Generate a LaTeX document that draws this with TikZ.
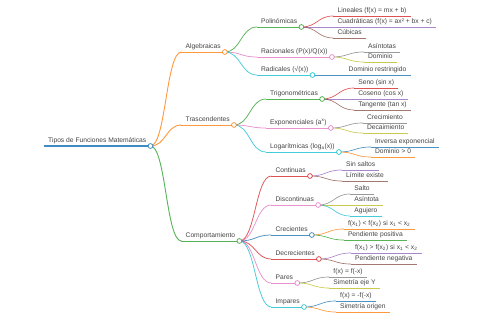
\documentclass[tikz,border=0pt]{standalone}
\usepackage{fontspec}
\setmainfont{Liberation Sans}
\usetikzlibrary{calc}
\definecolor{c0}{HTML}{1F77B4}
\definecolor{c1}{HTML}{FF7F0E}
\definecolor{c2}{HTML}{2CA02C}
\definecolor{c3}{HTML}{D62728}
\definecolor{c4}{HTML}{9467BD}
\definecolor{c5}{HTML}{8C564B}
\definecolor{c6}{HTML}{E377C2}
\definecolor{c7}{HTML}{7F7F7F}
\definecolor{c8}{HTML}{BCBD22}
\definecolor{c9}{HTML}{17BECF}
\definecolor{txt}{HTML}{444444}
\tikzset{
  lbl/.style={font=\fontsize{6.7}{8}\selectfont, text=txt, inner xsep=4pt, inner ysep=1.5pt,
    text height=5pt, text depth=1.5pt, anchor=south west},
  d0/.style={line width=1.2pt, draw opacity=0.85},
  d1/.style={line width=0.9pt, draw opacity=0.8},
  d2/.style={line width=0.75pt, draw opacity=0.8},
  d3/.style={line width=0.65pt, draw opacity=0.8},
  knobstyle/.style={line width=0.75pt, fill=white, draw opacity=0.85}
}
\def\kidgap{32}
\newcommand\kid[6]{%
  \path (#1.south east) ++(\kidgap,0) coordinate (#2-x);
  \coordinate (#2-y) at (0,#3);
  \node[lbl] (#2) at (#2-x |- #2-y) {#6};
  \draw[#4,#5] (#2.south west) -- (#2.south east);
  \draw[#4,#5] let \p1=(#1.south east), \p2=(#2.south west) in
    (\p1) .. controls ({0.5*\x1+0.5*\x2},\y1) and ({0.5*\x1+0.5*\x2},\y2) .. (\p2);
}
\newcommand\knob[2]{\draw[#2,knobstyle] (#1.south east) circle (2.4);}
\begin{document}
\begin{tikzpicture}[x=1pt,y=-1pt]
\useasboundingbox (0,0) rectangle (480,320);
\node[lbl] (root) at (44,146) {Tipos de Funciones Matemáticas};
\draw[c0,d0] (root.south west) -- (root.south east);
\def\kidgap{31}
\kid{root}{alg}{52}{c1}{d1}{Algebraicas}
\kid{root}{tra}{125}{c1}{d1}{Trascendentes}
\kid{root}{com}{241}{c2}{d1}{Comportamiento}
\def\kidgap{32}
\kid{alg}{pol}{27}{c2}{d2}{Polinómicas}
\kid{pol}{lin}{16}{c3}{d3}{Lineales (f(x) = mx + b)}
\kid{pol}{cua}{27}{c4}{d3}{Cuadráticas (f(x) = ax² + bx + c)}
\kid{pol}{cub}{38}{c5}{d3}{Cúbicas}
\kid{alg}{rac}{57}{c6}{d2}{Racionales (P(x)/Q(x))}
\kid{rac}{asi}{52}{c7}{d3}{Asíntotas}
\kid{rac}{dom}{62}{c8}{d3}{Dominio}
\kid{alg}{rad}{75}{c9}{d2}{Radicales (√(x))}
\kid{rad}{dres}{75}{c0}{d3}{Dominio restringido}
\kid{tra}{tri}{99}{c2}{d2}{Trigonométricas}
\kid{tri}{sen}{88}{c3}{d3}{Seno (sin x)}
\kid{tri}{cose}{99}{c4}{d3}{Coseno (cos x)}
\kid{tri}{tang}{110}{c5}{d3}{Tangente (tan x)}
\kid{tra}{expo}{128}{c6}{d2}{Exponenciales (a\textsuperscript{x})}
\kid{expo}{crem}{123}{c7}{d3}{Crecimiento}
\kid{expo}{deca}{133}{c8}{d3}{Decaimiento}
\kid{tra}{loga}{152}{c9}{d2}{Logarítmicas (log\textsubscript{a}(x))}
\kid{loga}{inv}{147}{c0}{d3}{Inversa exponencial}
\kid{loga}{dpos}{157}{c1}{d3}{Dominio > 0}
\kid{com}{cont}{176}{c3}{d2}{Continuas}
\kid{cont}{sins}{170}{c4}{d3}{Sin saltos}
\kid{cont}{lim}{181}{c5}{d3}{Límite existe}
\kid{com}{disc}{205}{c6}{d2}{Discontinuas}
\kid{disc}{sal}{194}{c7}{d3}{Salto}
\kid{disc}{asn}{205}{c8}{d3}{Asíntota}
\kid{disc}{agu}{216}{c9}{d3}{Agujero}
\kid{com}{crec}{235}{c0}{d2}{Crecientes}
\kid{crec}{fmen}{229}{c1}{d3}{f(x\textsubscript{1}) < f(x\textsubscript{2}) si x\textsubscript{1} < x\textsubscript{2}}
\kid{crec}{ppos}{240}{c2}{d3}{Pendiente positiva}
\kid{com}{decr}{259}{c3}{d2}{Decrecientes}
\kid{decr}{fmay}{253}{c4}{d3}{f(x\textsubscript{1}) > f(x\textsubscript{2}) si x\textsubscript{1} < x\textsubscript{2}}
\kid{decr}{pneg}{264}{c5}{d3}{Pendiente negativa}
\kid{com}{par}{283}{c6}{d2}{Pares}
\kid{par}{fpar}{277}{c7}{d3}{f(x) = f(-x)}
\kid{par}{sey}{288}{c8}{d3}{Simetría eje Y}
\kid{com}{imp}{307}{c9}{d2}{Impares}
\kid{imp}{fimp}{301}{c0}{d3}{f(x) = -f(-x)}
\kid{imp}{sor}{312}{c1}{d3}{Simetría origen}
\knob{root}{c0}
\knob{alg}{c1}
\knob{tra}{c1}
\knob{com}{c2}
\knob{pol}{c2}
\knob{rac}{c6}
\knob{rad}{c9}
\knob{tri}{c2}
\knob{expo}{c6}
\knob{loga}{c9}
\knob{cont}{c3}
\knob{disc}{c6}
\knob{crec}{c0}
\knob{decr}{c3}
\knob{par}{c6}
\knob{imp}{c9}
\end{tikzpicture}
\end{document}
